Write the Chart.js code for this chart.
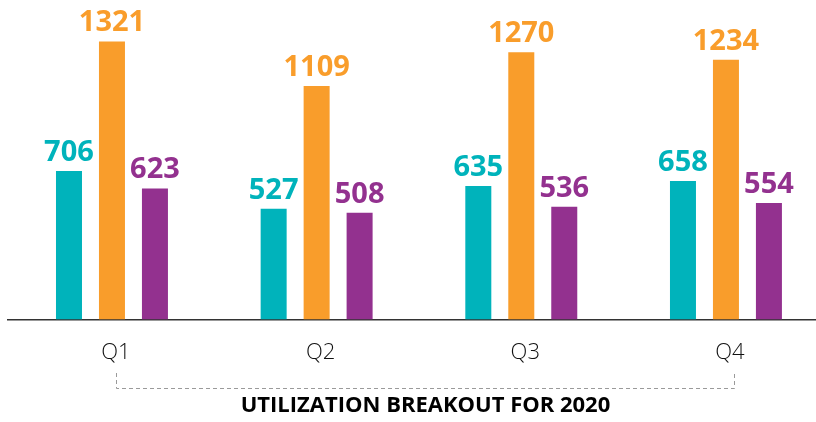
<!DOCTYPE html>
<html>
<head>
<meta charset="utf-8">
<script src="https://cdn.jsdelivr.net/npm/chart.js@4.4.0/dist/chart.umd.min.js"></script>
<style>
  html, body { margin: 0; padding: 0; background: #fff; }
</style>
</head>
<body>
<canvas id="chart" width="816" height="422"></canvas>
<script>
const quarters = ['Q1', 'Q2', 'Q3', 'Q4'];
const tealValues = [706, 527, 635, 658];
const orangeValues = [1321, 1109, 1270, 1234];
const purpleValues = [623, 508, 536, 554];
const seriesColors = ['#00b3bb', '#f99d2b', '#93318f'];
const chartTitle = 'UTILIZATION BREAKOUT FOR 2020';

function toPoints(values) {
  return values.map((v, i) => ({ x: i, y: v }));
}

// value labels above each bar, in the bar colour
const barLabels = {
  id: 'barLabels',
  afterDatasetsDraw(chart) {
    const ctx = chart.ctx;
    ctx.save();
    ctx.font = 'bold 29px "Open Sans"';
    ctx.textAlign = 'center';
    ctx.textBaseline = 'alphabetic';
    chart.data.datasets.forEach((ds, di) => {
      const meta = chart.getDatasetMeta(di);
      meta.data.forEach((bar, i) => {
        ctx.fillStyle = ds.backgroundColor;
        ctx.fillText(ds.data[i].y, bar.x, bar.y - 10);
      });
    });
    ctx.restore();
  }
};

// dashed bracket from Q1 to Q4 and the caption under it
const bracketTitle = {
  id: 'bracketTitle',
  afterDraw(chart) {
    const ctx = chart.ctx;
    const xs = chart.scales.x;
    const x1 = Math.round(xs.getPixelForValue(0) + 4) + 0.5;
    const x2 = Math.round(xs.getPixelForValue(quarters.length - 1) + 8) + 0.5;
    ctx.save();
    ctx.strokeStyle = '#9a9a9a';
    ctx.lineWidth = 1;
    ctx.setLineDash([4, 3]);
    ctx.beginPath();
    ctx.moveTo(x1, 373);
    ctx.lineTo(x1, 388.5);
    ctx.lineTo(x2, 388.5);
    ctx.lineTo(x2, 373);
    ctx.stroke();
    ctx.setLineDash([]);
    ctx.fillStyle = '#000';
    ctx.font = 'bold 22px "Open Sans"';
    ctx.textAlign = 'center';
    ctx.textBaseline = 'alphabetic';
    ctx.fillText(chartTitle, (x1 + x2) / 2, 412, 379);
    ctx.restore();
  }
};

new Chart(document.getElementById('chart'), {
  type: 'bar',
  data: {
    datasets: [
      { label: 'Series 1', data: toPoints(tealValues), backgroundColor: seriesColors[0] },
      { label: 'Series 2', data: toPoints(orangeValues), backgroundColor: seriesColors[1] },
      { label: 'Series 3', data: toPoints(purpleValues), backgroundColor: seriesColors[2] }
    ]
  },
  options: {
    responsive: false,
    animation: false,
    categoryPercentage: 0.63,
    barPercentage: 0.605,
    layout: { padding: { left: 8, right: 0, top: 0, bottom: 36 } },
    plugins: {
      legend: { display: false },
      tooltip: { enabled: false }
    },
    scales: {
      x: {
        type: 'linear',
        min: -0.508,
        max: 3.44,
        offset: false,
        grid: { display: false, drawTicks: false },
        border: { display: true, color: '#333', width: 1.5 },
        afterBuildTicks: axis => { axis.ticks = quarters.map((q, i) => ({ value: i })); },
        ticks: {
          color: '#111',
          padding: 20,
          labelOffset: 4,
          font: { family: 'Open Sans', size: 22, weight: '300' },
          callback: v => quarters[v] ?? ''
        }
      },
      y: {
        display: false,
        min: 0,
        max: 1518
      }
    }
  },
  plugins: [barLabels, bracketTitle]
});
</script>
</body>
</html>
